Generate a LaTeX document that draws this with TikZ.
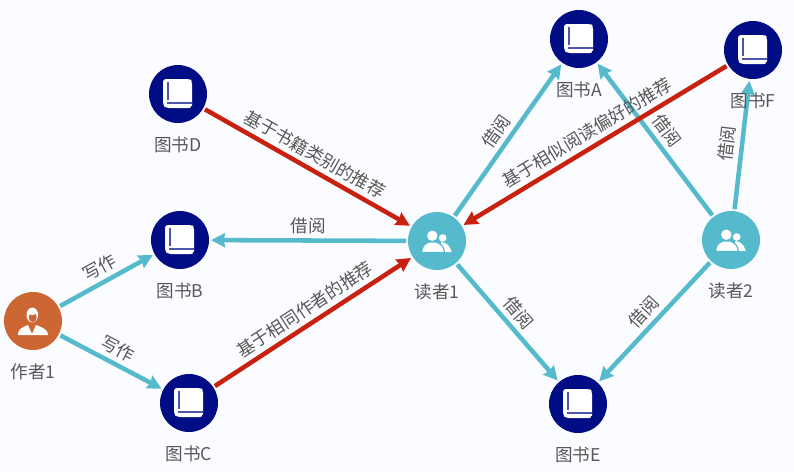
\documentclass[tikz,border=0pt]{standalone}
\usepackage{fontspec}
\setmainfont{Noto Sans CJK SC}
\usepackage{xcolor}
\usepackage{tikz}
\usetikzlibrary{arrows.meta,positioning}
\definecolor{pagefill}{HTML}{FBFCFF}
\definecolor{bookfill}{HTML}{000D85}
\definecolor{readerfill}{HTML}{56BACD}
\definecolor{authorfill}{HTML}{CC6633}
\definecolor{recline}{HTML}{C9210F}
\definecolor{textgray}{HTML}{585858}

\tikzset{
  bookicon/.pic={
    \fill[white, rounded corners=2.2pt] (-15,-15) -- (12,-15) -- (14,-13) -- (14,14) -- (-12,14) -- (-15,11) -- cycle;
    \fill[bookfill!70!white] (-11,8) rectangle (14,10);
    \fill[bookfill!70!white] (-11.5,-12.5) rectangle (-9.5,6);
    \fill[bookfill] (12.5,11.5) rectangle (15,15);
  },
  readericon/.pic={
    \fill[white] (5.7,-3) circle[radius=3.8];
    \fill[white] (4,1) .. controls (10,1.5) and (13,5) .. (14.7,11) -- (4,11) -- cycle;
    \fill[readerfill] (-4.7,-5.3) circle[radius=6.6];
    \fill[white, draw=readerfill, line width=0.9pt] (-15.5,11.5) .. controls (-15,5) and (-12,2.5) .. (-8,1) -- (-1,1) .. controls (3,2.5) and (7,5) .. (7.5,11.5) -- cycle;
    \fill[white] (-4.7,-5.3) circle[radius=5.2];
  },
  authoricon/.pic={
    \fill[white] (-0.7,-6) ellipse[x radius=5.8, y radius=7.4];
    \fill[authorfill] (-0.3,-3.8) ellipse[x radius=4, y radius=5];
    \fill[white] (-4,-7) .. controls (-1,-5) and (2,-6) .. (4,-8) -- (3,-11) -- (-3,-11) -- cycle;
    \fill[white] (-15,14) .. controls (-15,9) and (-13,7) .. (-5,4) -- (-1,13) -- (3,4) .. controls (11,7) and (15,9) .. (15,14) -- cycle;
  }
}

\begin{document}
\begin{tikzpicture}[
  x=0.75pt, y=-0.75pt,
  font=\fontsize{13.2}{15}\selectfont, text=textgray,
  book/.style={circle, fill=bookfill, minimum size=43.5pt, inner sep=0pt, outer sep=1.5pt},
  reader/.style={circle, fill=readerfill, minimum size=43.5pt, inner sep=0pt, outer sep=1.5pt},
  author/.style={circle, fill=authorfill, minimum size=43.5pt, inner sep=0pt, outer sep=1.5pt},
  caption/.style={inner sep=0pt},
  link/.style={-{Stealth[length=10.5pt, width=10.5pt, inset=1pt]}, line width=3.4pt, readerfill},
  rec/.style={-{Stealth[length=10.5pt, width=10.5pt, inset=1pt]}, line width=3.4pt, recline},
  edgetext/.style={sloped, above=3.5pt, inner sep=0pt, text=textgray}
]
  \useasboundingbox[fill=pagefill] (0,0) rectangle (794,472);

  \node[author] (author1) at (33,321) {};
  \node[book]   (bookA) at (579,39) {};
  \node[book]   (bookB) at (180,240) {};
  \node[book]   (bookC) at (189,403) {};
  \node[book]   (bookD) at (178,94) {};
  \node[book]   (bookE) at (578,404) {};
  \node[book]   (bookF) at (753,50) {};
  \node[reader] (reader1) at (437,241) {};
  \node[reader] (reader2) at (731,240) {};

  \draw[link] (author1) -- node[edgetext] {写作} (bookB);
  \draw[link] (author1) -- node[edgetext] {写作} (bookC);
  \draw[link] (reader1) -- node[edgetext] {借阅} (bookB);
  \draw[link] (reader1) -- node[edgetext] {借阅} (bookA);
  \draw[link] (reader1) -- node[edgetext] {借阅} (bookE);
  \draw[link] (reader2) -- node[edgetext] {借阅} (bookA);
  \draw[link] (reader2) -- node[edgetext] {借阅} (bookF);
  \draw[link] (reader2) -- node[edgetext] {借阅} (bookE);
  \draw[rec] (bookD) -- node[edgetext] {基于书籍类别的推荐} (reader1);
  \draw[rec] (bookC) -- node[edgetext] {基于相同作者的推荐} (reader1);
  \draw[rec] (bookF) -- node[edgetext] {基于相似阅读偏好的推荐} (reader1);

  \pic at (author1) {authoricon};
  \pic at (bookA) {bookicon};
  \pic at (bookB) {bookicon};
  \pic at (bookC) {bookicon};
  \pic at (bookD) {bookicon};
  \pic at (bookE) {bookicon};
  \pic at (bookF) {bookicon};
  \pic at (reader1) {readericon};
  \pic at (reader2) {readericon};

  \node[caption, below=8.7pt of author1] (author1name) {作者1};
  \node[caption, below=8.7pt of bookA] (bookAname) {图书A};
  \node[caption, below=8.7pt of bookB] (bookBname) {图书B};
  \node[caption, below=8.7pt of bookC] (bookCname) {图书C};
  \node[caption, below=8.7pt of bookD] (bookDname) {图书D};
  \node[caption, below=8.7pt of bookE] (bookEname) {图书E};
  \node[caption, below=8.7pt of bookF] (bookFname) {图书F};
  \node[caption, below=8.7pt of reader1] (reader1name) {读者1};
  \node[caption, below=8.7pt of reader2] (reader2name) {读者2};
\end{tikzpicture}
\end{document}
